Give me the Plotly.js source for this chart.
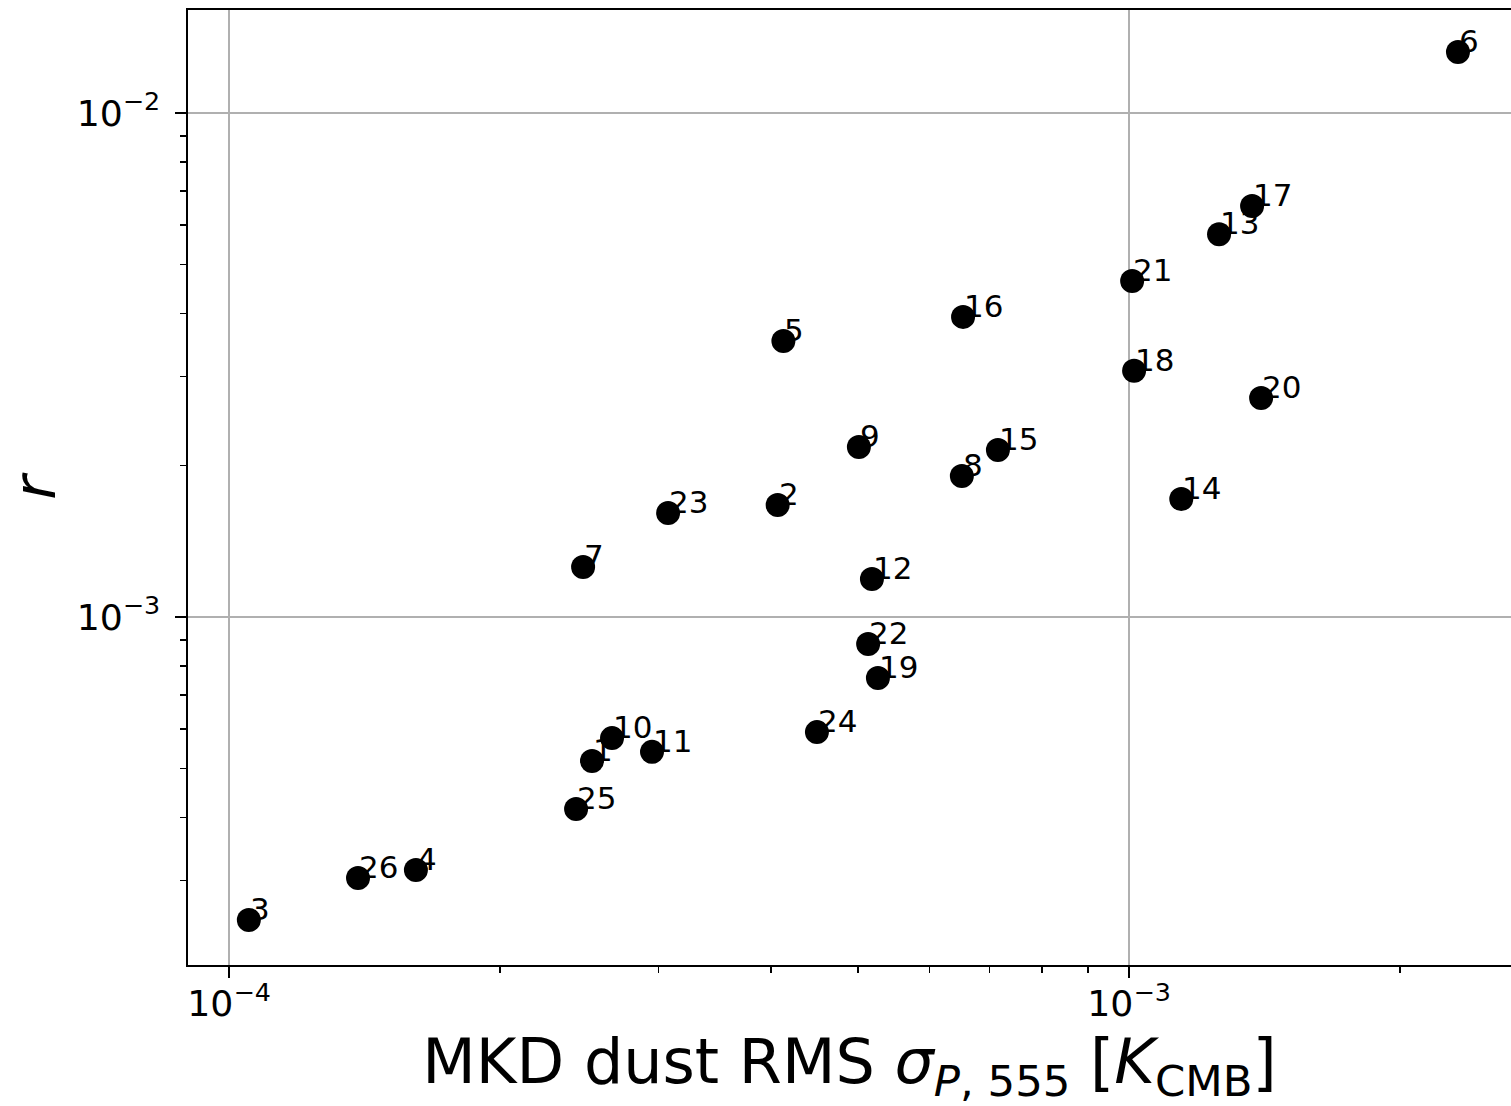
<!DOCTYPE html>
<html>
<head>
<meta charset="utf-8">
<script src="https://cdn.plot.ly/plotly-3.0.1.min.js"></script>
<style>html,body{margin:0;padding:0;background:#fff;}#chart{width:1511px;height:1106px;}</style>
</head>
<body>
<div id="chart"></div>
<script>
// Region labels
const labels = ["1","2","3","4","5","6","7","8","9","10","11","12","13","14","15","16","17","18","19","20","21","22","23","24","25","26"];
// MKD dust RMS sigma_P,555 [K_CMB]
const dustRms = [2.531e-4, 4.07e-4, 1.052e-4, 1.613e-4, 4.13e-4, 2.32e-3, 2.474e-4, 6.52e-4, 5.01e-4, 2.664e-4,
                 2.951e-4, 5.18e-4, 1.259e-3, 1.143e-3, 7.15e-4, 6.54e-4, 1.37e-3, 1.013e-3, 5.26e-4, 1.402e-3,
                 1.008e-3, 5.13e-4, 3.075e-4, 4.5e-4, 2.43e-4, 1.391e-4];
// tensor-to-scalar ratio r
const rValues = [5.18e-4, 1.668e-3, 2.505e-4, 3.148e-4, 3.53e-3, 1.321e-2, 1.257e-3, 1.905e-3, 2.175e-3, 5.75e-4,
                 5.40e-4, 1.19e-3, 5.75e-3, 1.714e-3, 2.145e-3, 3.94e-3, 6.54e-3, 3.08e-3, 7.57e-4, 2.72e-3,
                 4.64e-3, 8.84e-4, 1.608e-3, 5.91e-4, 4.16e-4, 3.035e-4];

const font = "DejaVu Sans";

const markerTrace = {
  x: dustRms, y: rValues,
  mode: "markers", type: "scatter",
  marker: {size: 24, color: "black"},
  showlegend: false, cliponaxis: false
};

const annotations = labels.map((t, i) => ({
  x: Math.log10(dustRms[i]), y: Math.log10(rValues[i]),
  xref: "x", yref: "y", text: t, showarrow: false,
  xanchor: "left", yanchor: "bottom", xshift: -1, yshift: -9,
  font: {family: font, size: 31, color: "black"}
}));

const axisCommon = {
  type: "log",
  showline: true, linecolor: "black", linewidth: 2,
  ticks: "outside", ticklen: 11, tickwidth: 2, tickcolor: "black",
  showgrid: true, gridcolor: "#b0b0b0", gridwidth: 2,
  dtick: 1, exponentformat: "power",
  tickfont: {family: font, size: 29, color: "black"},
  minor: {ticks: "outside", ticklen: 6, tickwidth: 1.5, tickcolor: "black", dtick: "D1", showgrid: false},
  zeroline: false
};

const layout = {
  width: 1511, height: 1106,
  margin: {l: 188, r: 0, t: 10, b: 141},
  paper_bgcolor: "white", plot_bgcolor: "white",
  font: {family: font, color: "black"},
  annotations: annotations,
  xaxis: Object.assign({}, axisCommon, {
    range: [-4.0456, -2.5756],
    mirror: true,
    ticklabelstandoff: -4,
    title: {text: "MKD dust RMS <i>σ</i><sub><i>P</i>, 555</sub> [<i>K</i><sub>CMB</sub>]",
            font: {family: font, size: 62, color: "black"}, standoff: 22}
  }),
  yaxis: Object.assign({}, axisCommon, {
    range: [-3.6905, -1.7956],
    mirror: false,
    ticklabelstandoff: 9,
    title: {text: "<i>r</i>", font: {family: font, size: 59, color: "black"}, standoff: 28}
  })
};

Plotly.newPlot("chart", [markerTrace], layout, {displayModeBar: false, staticPlot: true});
</script>
</body>
</html>
